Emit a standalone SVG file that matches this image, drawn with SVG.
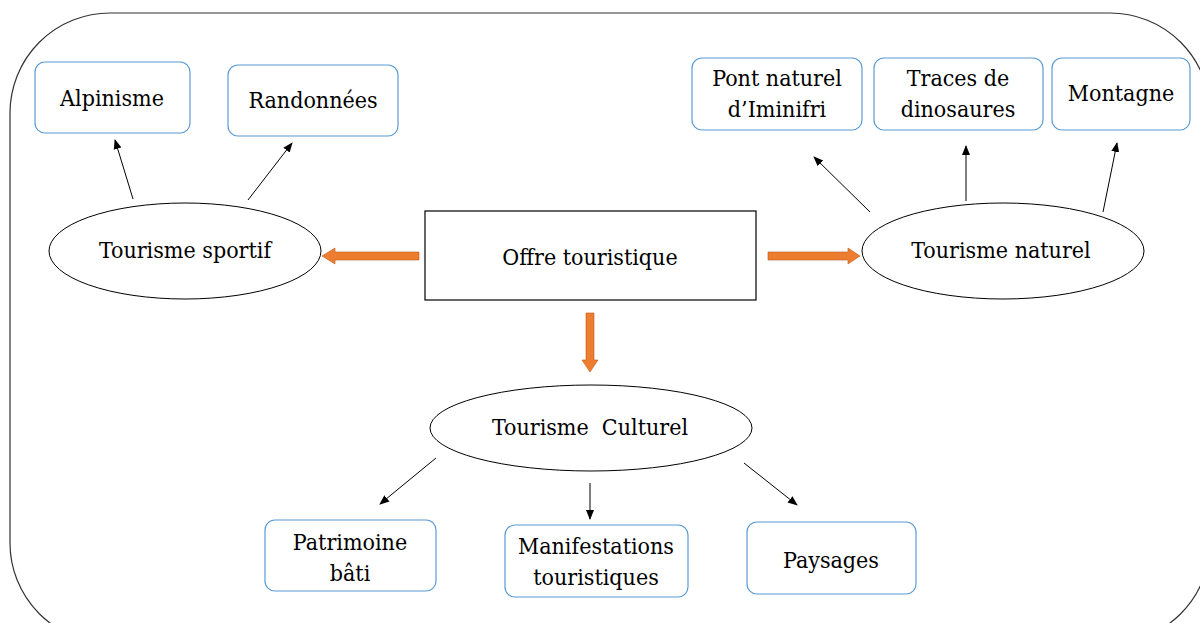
<svg xmlns="http://www.w3.org/2000/svg" width="1200" height="623" viewBox="0 0 1200 623">
<defs>
<style>
.t{font-family:'DejaVu Serif Condensed','DejaVu Serif','Liberation Serif',serif;font-stretch:condensed;font-size:23px;fill:#000;text-anchor:middle}
.box{fill:#fff;stroke:#5B9BD5;stroke-width:1.2}
.ell{fill:#fff;stroke:#000;stroke-width:1}
.ln{stroke:#000;stroke-width:1;fill:none;marker-end:url(#ah)}
.or{fill:#ED7D31;stroke:#C55A11;stroke-width:0.6}
</style>
<marker id="ah" markerWidth="10" markerHeight="10" refX="9" refY="5" orient="auto" markerUnits="userSpaceOnUse">
<path d="M0,1 L10,5 L0,9 z" fill="#000"/>
</marker>
</defs>
<rect width="1200" height="623" fill="#fff"/>
<rect id="frame" x="10" y="13" width="1200" height="630" rx="100" ry="100" fill="none" stroke="#333" stroke-width="1.2"/>

<g id="connectors">
<line class="ln" x1="133" y1="199" x2="115" y2="140"/>
<line class="ln" x1="248" y1="200" x2="292" y2="143"/>
<line class="ln" x1="870" y1="212" x2="814" y2="157"/>
<line class="ln" x1="966" y1="201" x2="966" y2="146"/>
<line class="ln" x1="1103" y1="212" x2="1117" y2="143"/>
<line class="ln" x1="436" y1="458" x2="380" y2="504"/>
<line class="ln" x1="590" y1="483" x2="590" y2="519"/>
<line class="ln" x1="744" y1="463" x2="797" y2="505"/>
<path class="or" d="M419,252 L335,252 L335,248 L322,256 L335,264 L335,260 L419,260 Z"/>
<path class="or" d="M768,252 L848,252 L848,248 L860,256 L848,264 L848,260 L768,260 Z"/>
<path class="or" d="M586,313 L586,360 L582,360 L590,372 L598,360 L594,360 L594,313 Z"/>
</g>

<g id="offre">
<rect x="425" y="211" width="331" height="89" fill="#fff" stroke="#000" stroke-width="1.2"/>
<text class="t" x="590" y="265">Offre touristique</text>
</g>

<g id="sportif">
<ellipse class="ell" cx="185" cy="251" rx="136" ry="48"/>
<text class="t" x="185" y="258">Tourisme sportif</text>
</g>
<g id="alpinisme">
<rect class="box" x="35" y="62" width="155" height="71" rx="10"/>
<text class="t" x="112" y="106">Alpinisme</text>
</g>
<g id="randonnees">
<rect class="box" x="228" y="65" width="170" height="71" rx="10"/>
<text class="t" x="313" y="108">Randonnées</text>
</g>

<g id="naturel">
<ellipse class="ell" cx="1003" cy="251" rx="141" ry="48"/>
<text class="t" x="1001" y="258">Tourisme naturel</text>
</g>
<g id="pont">
<rect class="box" x="692" y="58" width="170" height="72" rx="10"/>
<text class="t" x="777" y="86">Pont naturel</text>
<text class="t" x="777" y="117">d’Iminifri</text>
</g>
<g id="traces">
<rect class="box" x="874" y="58" width="169" height="72" rx="10"/>
<text class="t" x="958" y="86">Traces de</text>
<text class="t" x="958" y="117">dinosaures</text>
</g>
<g id="montagne">
<rect class="box" x="1052" y="58" width="138" height="72" rx="10"/>
<text class="t" x="1121" y="101">Montagne</text>
</g>

<g id="culturel">
<ellipse class="ell" cx="591" cy="428" rx="161" ry="43"/>
<text class="t" x="590" y="435" xml:space="preserve">Tourisme  Culturel</text>
</g>
<g id="patrimoine">
<rect class="box" x="265" y="520" width="171" height="71" rx="10"/>
<text class="t" x="350" y="550">Patrimoine</text>
<text class="t" x="350" y="581">bâti</text>
</g>
<g id="manifestations">
<rect class="box" x="505" y="525" width="183" height="72" rx="10"/>
<text class="t" x="596" y="554">Manifestations</text>
<text class="t" x="596" y="585">touristiques</text>
</g>
<g id="paysages">
<rect class="box" x="747" y="522" width="169" height="72" rx="10"/>
<text class="t" x="831" y="568">Paysages</text>
</g>
</svg>
